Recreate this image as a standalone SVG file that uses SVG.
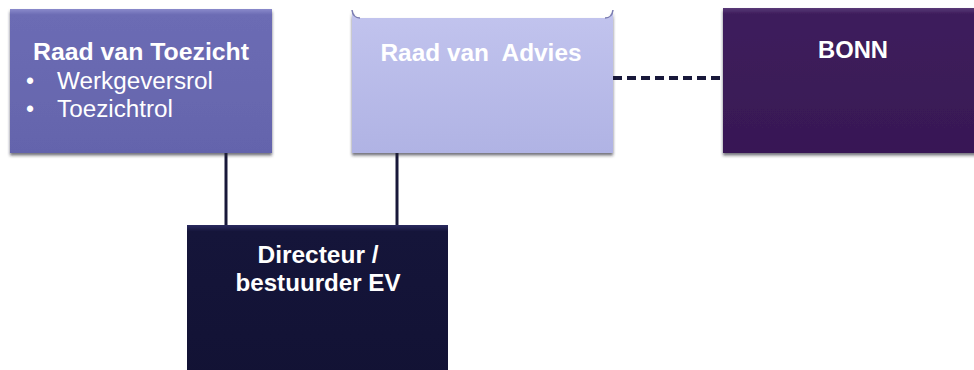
<svg xmlns="http://www.w3.org/2000/svg" width="974" height="370" viewBox="0 0 974 370">
  <style>
    .t { font-family: "Liberation Sans", Arial, sans-serif; fill: #ffffff; }
    .b { font-weight: bold; font-size: 24px; }
    .r { font-size: 23px; }
    .conn { stroke: #18183a; stroke-width: 3; fill: none; }
    .dash { stroke-dasharray: 9 5; stroke-width: 4; }
  </style>
  <defs>
    <filter id="sh" x="-5%" y="-5%" width="110%" height="115%">
      <feDropShadow dx="0" dy="2.5" stdDeviation="1.5" flood-color="#222233" flood-opacity="0.65"/>
    </filter>
    <linearGradient id="g1" x1="0" y1="0" x2="0" y2="1">
      <stop offset="0" stop-color="#8a8acb"/>
      <stop offset="0.04" stop-color="#6c6cb4"/>
      <stop offset="1" stop-color="#6464ac"/>
    </linearGradient>
    <linearGradient id="g2" x1="0" y1="0" x2="0" y2="1">
      <stop offset="0" stop-color="#c2c4ee"/>
      <stop offset="1" stop-color="#b0b3e4"/>
    </linearGradient>
    <linearGradient id="g3" x1="0" y1="0" x2="0" y2="1">
      <stop offset="0" stop-color="#5a3a78"/>
      <stop offset="0.04" stop-color="#3e1e5c"/>
      <stop offset="1" stop-color="#381855"/>
    </linearGradient>
    <linearGradient id="g4" x1="0" y1="0" x2="0" y2="1">
      <stop offset="0" stop-color="#2a2a60"/>
      <stop offset="0.04" stop-color="#15153a"/>
      <stop offset="1" stop-color="#121234"/>
    </linearGradient>
  </defs>

  <g id="connectors">
    <line class="conn" x1="226" y1="150" x2="226" y2="227"/>
    <line class="conn" x1="397" y1="150" x2="397" y2="227"/>
    <line class="conn dash" x1="613" y1="78" x2="723" y2="78"/>
  </g>

  <g id="raad-van-toezicht">
    <rect x="10" y="9" width="262" height="144" fill="url(#g1)" filter="url(#sh)"/>
    <text class="t b" x="141" y="60" text-anchor="middle" textLength="216" lengthAdjust="spacingAndGlyphs">Raad van Toezicht</text>
    <text class="t r" x="26" y="89">•</text>
    <text class="t r" x="57" y="89" textLength="156" lengthAdjust="spacingAndGlyphs">Werkgeversrol</text>
    <text class="t r" x="26" y="117">•</text>
    <text class="t r" x="57" y="117" textLength="116" lengthAdjust="spacingAndGlyphs">Toezichtrol</text>
  </g>

  <g id="raad-van-advies">
    <path d="M352,10 Q353,18 360,18 L605,18 Q612,18 613,10 L613,153 L352,153 Z" fill="url(#g2)" filter="url(#sh)"/>
    <path d="M352,10 Q353,18 360,18 M605,18 Q612,18 613,10" fill="none" stroke="#7a7cb0" stroke-width="1.5"/>
    <text class="t b" x="481" y="61" text-anchor="middle" style="white-space:pre" fill="#f4f4ff" textLength="201" lengthAdjust="spacingAndGlyphs">Raad van  Advies</text>
  </g>

  <g id="bonn">
    <rect x="723" y="8" width="260" height="145" fill="url(#g3)" filter="url(#sh)"/>
    <text class="t b" x="853" y="58" text-anchor="middle" textLength="70" lengthAdjust="spacingAndGlyphs">BONN</text>
  </g>

  <g id="directeur">
    <rect x="187" y="225" width="261" height="160" fill="url(#g4)"/>
    <text class="t b" x="318" y="263" text-anchor="middle" textLength="121" lengthAdjust="spacingAndGlyphs">Directeur /</text>
    <text class="t b" x="318" y="291" text-anchor="middle" textLength="165" lengthAdjust="spacingAndGlyphs">bestuurder EV</text>
  </g>
</svg>
